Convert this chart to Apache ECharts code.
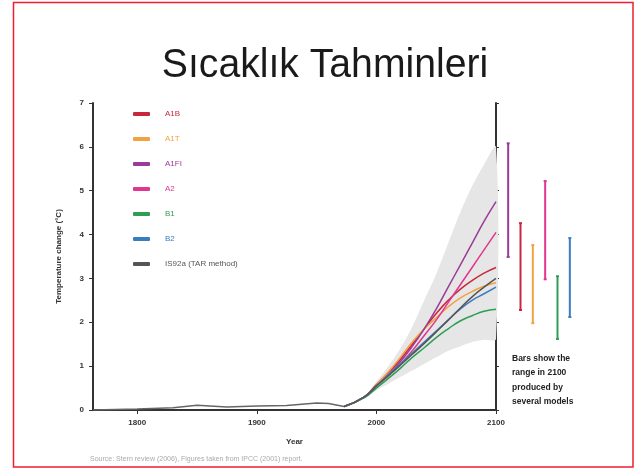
<!DOCTYPE html>
<html>
<head>
<meta charset="utf-8">
<script src="https://cdn.jsdelivr.net/npm/echarts@6/dist/echarts.min.js"></script>
<style>
  html, body { margin: 0; padding: 0; background: #fff; }
  #chart { width: 635px; height: 468px; }
</style>
</head>
<body>
<div id="chart"></div>
<script>
// historical record
const histYears = [1763, 1800, 1830, 1850, 1875, 1900, 1925, 1950, 1960, 1973];
const histValues = [0.0, 0.02, 0.05, 0.11, 0.07, 0.09, 0.1, 0.16, 0.15, 0.08];

// scenario projections
const years = [1973, 1990, 2000, 2010, 2020, 2030, 2040, 2050, 2060, 2070, 2080, 2090, 2100];
const scenarioNames = ['A1B', 'A1T', 'A1FI', 'A2', 'B1', 'B2', 'IS92a (TAR method)'];
const scenarioColors = ['#c9283c', '#f3a243', '#9a3b98', '#e0368f', '#2f9e55', '#3a7dbf', '#555555'];
const A1B  = [0.08, 0.3, 0.58, 0.85, 1.15, 1.5, 1.85, 2.2, 2.5, 2.75, 2.95, 3.12, 3.25];
const A1T  = [0.08, 0.3, 0.58, 0.87, 1.2, 1.55, 1.85, 2.1, 2.35, 2.55, 2.7, 2.82, 2.9];
const A1FI = [0.08, 0.3, 0.55, 0.8, 1.1, 1.45, 1.85, 2.3, 2.8, 3.3, 3.8, 4.3, 4.75];
const A2   = [0.08, 0.3, 0.55, 0.78, 1.05, 1.35, 1.7, 2.05, 2.45, 2.85, 3.25, 3.65, 4.05];
const B1   = [0.08, 0.28, 0.5, 0.72, 0.95, 1.2, 1.42, 1.65, 1.85, 2.03, 2.15, 2.25, 2.3];
const B2   = [0.08, 0.3, 0.55, 0.8, 1.05, 1.3, 1.55, 1.8, 2.05, 2.3, 2.5, 2.65, 2.8];
const IS92a = [0.08, 0.3, 0.55, 0.78, 1.02, 1.27, 1.52, 1.78, 2.05, 2.32, 2.58, 2.8, 3.0];
const scenarioValues = [A1B, A1T, A1FI, A2, B1, B2, IS92a];

// grey envelope of all models
const bandLow  = [0.08, 0.28, 0.45, 0.6, 0.75, 0.9, 1.05, 1.2, 1.35, 1.45, 1.55, 1.6, 1.62];
const bandHigh = [0.08, 0.32, 0.65, 1.0, 1.4, 1.9, 2.5, 3.1, 3.8, 4.5, 5.1, 5.6, 6.0];

// range in 2100 (bars on the right)
const rangeNames = ['A1FI', 'A1B', 'A1T', 'A2', 'B1', 'B2'];
const rangeColors = ['#9a3b98', '#c9283c', '#f3a243', '#e0368f', '#2f9e55', '#3a7dbf'];
const rangeLow  = [3.49, 2.28, 1.98, 2.98, 1.62, 2.12];
const rangeHigh = [6.08, 4.26, 3.76, 5.22, 3.05, 3.92];

const xTicks = [1800, 1900, 2000, 2100];

const chart = echarts.init(document.getElementById('chart'));

const pair = (xs, ys) => xs.map((x, i) => [x, ys[i]]);

const series = [
  {
    // envelope polygon
    name: 'band', type: 'custom', silent: true, z: 1,
    data: [[years[0], bandLow[0]]],
    renderItem: (params, api) => {
      const pts = years.map((y, i) => api.coord([y, bandHigh[i]]))
        .concat(years.slice().reverse().map((y, j) => api.coord([y, bandLow[years.length - 1 - j]])));
      return { type: 'polygon', shape: { points: pts, smooth: 0.3 }, style: { fill: '#e6e6e6' } };
    }
  },
  {
    name: 'hist', type: 'line', data: pair(histYears, histValues), symbol: 'none',
    lineStyle: { color: '#666', width: 1.5 }, z: 3
  }
];
scenarioNames.forEach((n, i) => {
  series.push({
    name: n, type: 'line', data: pair(years, scenarioValues[i]), symbol: 'none', smooth: true,
    lineStyle: { color: scenarioColors[i], width: 1.5 }, itemStyle: { color: scenarioColors[i] }, z: 4
  });
});
series.push({
  name: 'ranges', type: 'custom', xAxisIndex: 2, yAxisIndex: 2,
  data: rangeNames.map((n, i) => [i, rangeLow[i], rangeHigh[i]]),
  renderItem: (params, api) => {
    const lo = api.coord([api.value(0), api.value(1)]);
    const hi = api.coord([api.value(0), api.value(2)]);
    const c = rangeColors[params.dataIndex];
    const st = { stroke: c, lineWidth: 2 };
    return {
      type: 'group',
      children: [
        { type: 'line', shape: { x1: lo[0], y1: lo[1], x2: hi[0], y2: hi[1] }, style: st },
        { type: 'line', shape: { x1: lo[0] - 1.5, y1: lo[1], x2: lo[0] + 1.5, y2: lo[1] }, style: st },
        { type: 'line', shape: { x1: hi[0] - 1.5, y1: hi[1], x2: hi[0] + 1.5, y2: hi[1] }, style: st }
      ]
    };
  }
});

const axisFont = { fontSize: 8, fontWeight: 'bold', color: '#333', fontFamily: 'Liberation Sans' };

const option = {
  backgroundColor: '#fff',
  animation: false,
  legend: {
    data: scenarioNames.map((n, i) => ({ name: n, textStyle: { color: scenarioColors[i] } })),
    orient: 'vertical', left: 128, top: 104,
    icon: 'roundRect', itemWidth: 17, itemHeight: 4, itemGap: 15,
    textStyle: { fontSize: 8, lineHeight: 10, fontFamily: 'Liberation Sans', padding: [0, 0, 0, 10] },
    selectedMode: false
  },
  grid: [
    { left: 93, right: 139, top: 103, bottom: 58 },
    { left: 93, right: 139, top: 103, bottom: 58 },
    { left: 502, right: 59, top: 103, bottom: 58 }
  ],
  xAxis: [
    {
      type: 'value', gridIndex: 0, min: 1763, max: 2100,
      name: 'Year', nameLocation: 'middle', nameGap: 28, nameTextStyle: axisFont,
      axisLine: { lineStyle: { color: '#333', width: 2 } },
      axisTick: { customValues: xTicks, length: 4, lineStyle: { color: '#333' } },
      axisLabel: { customValues: xTicks, margin: 9, formatter: v => String(v), ...axisFont },
      splitLine: { show: false }
    },
    { type: 'value', gridIndex: 1, min: 1763, max: 2100, show: false },
    { type: 'category', gridIndex: 2, data: rangeNames, show: false }
  ],
  yAxis: [
    {
      type: 'value', gridIndex: 0, min: 0, max: 7, interval: 1,
      name: 'Temperature change (°C)', nameLocation: 'middle', nameGap: 30, nameTextStyle: axisFont,
      axisLine: { show: true, lineStyle: { color: '#333', width: 2 } },
      axisTick: { show: true, length: 4, lineStyle: { color: '#333' } },
      axisLabel: { margin: 9, ...axisFont },
      splitLine: { show: false }
    },
    {
      type: 'value', gridIndex: 1, min: 0, max: 7, interval: 1, position: 'right',
      axisLine: { show: true, lineStyle: { color: '#333', width: 2 } },
      axisTick: { show: true, length: 3, lineStyle: { color: '#333' } },
      axisLabel: { show: false },
      splitLine: { show: false }
    },
    { type: 'value', gridIndex: 2, min: 0, max: 7, show: false }
  ],
  series: series,
  graphic: [
    {
      type: 'rect', z: 100, silent: true,
      shape: { x: 13.5, y: 2.5, width: 619.5, height: 464.5 },
      style: { fill: 'none', stroke: '#ee1f30', lineWidth: 1.5 }
    },
    {
      type: 'text', x: 325, y: 66, scaleX: 0.955, z: 50,
      style: {
        text: 'Sıcaklık Tahminleri', textAlign: 'center', textVerticalAlign: 'middle',
        fontSize: 41, fill: '#1a1a1a', fontFamily: 'Liberation Sans'
      }
    },
    {
      type: 'text', left: 512, top: 351,
      style: {
        text: 'Bars show the\nrange in 2100\nproduced by\nseveral models',
        fontSize: 8.5, lineHeight: 14.5, fontWeight: 'bold', fill: '#222', fontFamily: 'Liberation Sans'
      }
    },
    {
      type: 'text', left: 90, top: 456,
      style: {
        text: 'Source: Stern review (2006), Figures taken from IPCC (2001) report.',
        fontSize: 7, fill: '#aaa', fontFamily: 'Liberation Sans'
      }
    }
  ]
};

option && chart.setOption(option);
</script>
</body>
</html>
